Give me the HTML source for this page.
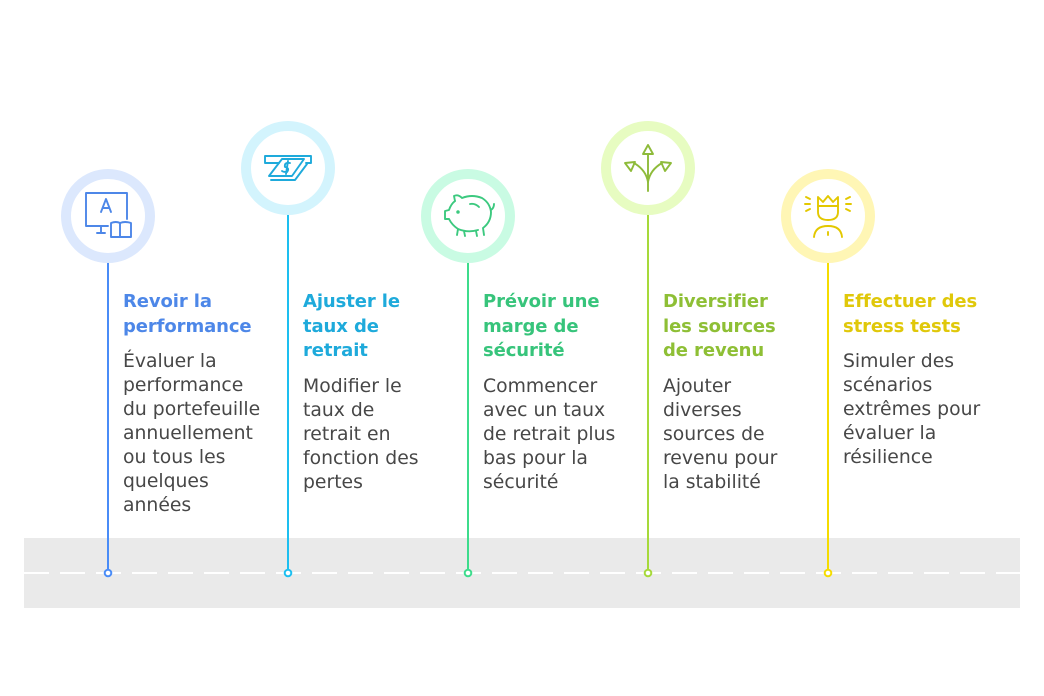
<!DOCTYPE html>
<html><head><meta charset="utf-8">
<style>
html,body{margin:0;padding:0;background:#fff;}
#wrap{position:relative;width:1044px;height:696px;overflow:hidden;background:#fff;}
svg{position:absolute;left:0;top:0;}
.t{position:absolute;white-space:nowrap;font-family:"DejaVu Sans","Liberation Sans",sans-serif;}
.h{font-weight:bold;font-size:18px;line-height:24.5px;letter-spacing:-0.1px;}
.b{font-size:18.8px;line-height:24px;color:#474747;margin-top:11px;}
</style></head><body>
<div id="wrap">
<svg width="1044" height="696" viewBox="0 0 1044 696">
  <!-- road -->
  <rect x="24" y="538" width="996" height="70" fill="#eaeaea"/>
  <line x1="24" y1="573" x2="1020" y2="573" stroke="#fff" stroke-width="2" stroke-dasharray="25 11"/>

  <!-- node 1 -->
  <line x1="108" y1="262" x2="108" y2="570" stroke="#4a8cf7" stroke-width="2"/>
  <circle cx="108" cy="573" r="3.3" fill="#fff" stroke="#4a8cf7" stroke-width="2"/>
  <circle cx="108" cy="216" r="42" fill="#fff" stroke="#dce8fd" stroke-width="10"/>
  <g fill="none" stroke="#4d87e8" stroke-width="1.9" stroke-linecap="round" stroke-linejoin="round">
    <path d="M108 226 H86 V193 H127 V219"/>
    <path d="M101 226 V233 M97 233 H105"/>
    <path d="M101 212 L106 199 L111 212 M103 208 H109"/>
    <path d="M111 223 V237 H120 V223 Q116 221 111 223 Z M120 223 Q125 221 131 223 V237 H120"/>
  </g>

  <!-- node 2 -->
  <line x1="288" y1="214" x2="288" y2="570" stroke="#1dbff0" stroke-width="2"/>
  <circle cx="288" cy="573" r="3.3" fill="#fff" stroke="#1dbff0" stroke-width="2"/>
  <circle cx="288" cy="168" r="42" fill="#fff" stroke="#d3f4fd" stroke-width="10"/>
  <g fill="none" stroke="#1eaadb" stroke-width="1.9" stroke-linecap="round" stroke-linejoin="round">
    <path d="M279 163 H265 V156 H311 V163 H306"/>
    <path d="M282 159 H304 L292 176 H269 Z"/>
    <path d="M271 180 H295 L307 164"/>
    <path d="M290 163 Q284 162 285 167 Q290 168 287 172 Q283 172 282 171 M288 161 L286 174"/>
  </g>

  <!-- node 3 -->
  <line x1="468" y1="262" x2="468" y2="570" stroke="#3ddc8c" stroke-width="2"/>
  <circle cx="468" cy="573" r="3.3" fill="#fff" stroke="#3ddc8c" stroke-width="2"/>
  <circle cx="468" cy="216" r="42" fill="#fff" stroke="#c9fbe3" stroke-width="10"/>
  <g fill="none" stroke="#3cc97f" stroke-width="1.9" stroke-linecap="round" stroke-linejoin="round">
    <path d="M455 201 L454 196 Q458 194 462 198 Q472 194 482 198 Q490 203 491 212 Q491 222 483 228 L484 235 M478 230 Q468 233 458 229 L457 235 M464 231 L465 236 M476 231 L477 236"/>
    <path d="M458 229 Q452 225 449 219 H445 V211 L449 210 Q451 204 455 201"/>
    <path d="M491 210 Q494 208 494 204"/>
    <path d="M470 204 Q475 203 479 207"/>
    <circle cx="458" cy="212" r="0.8" fill="#3cc97f"/>
  </g>

  <!-- node 4 -->
  <line x1="648" y1="214" x2="648" y2="570" stroke="#a6d93a" stroke-width="2"/>
  <circle cx="648" cy="573" r="3.3" fill="#fff" stroke="#a6d93a" stroke-width="2"/>
  <circle cx="648" cy="168" r="42" fill="#fff" stroke="#e7fcc1" stroke-width="10"/>
  <g fill="none" stroke="#8ebb3a" stroke-width="1.9" stroke-linecap="round" stroke-linejoin="round">
    <path d="M648 191 V154"/>
    <path d="M648 145 L643 154 H653 Z"/>
    <path d="M648 182 Q646 170 634 163"/>
    <path d="M648 182 Q650 170 662 163"/>
    <path d="M625 163 L635 162 L631 171 Z"/>
    <path d="M671 163 L661 162 L665 171 Z"/>
  </g>

  <!-- node 5 -->
  <line x1="828" y1="262" x2="828" y2="570" stroke="#f5dc00" stroke-width="2"/>
  <circle cx="828" cy="573" r="3.3" fill="#fff" stroke="#f5dc00" stroke-width="2"/>
  <circle cx="828" cy="216" r="42" fill="#fff" stroke="#fff6b5" stroke-width="10"/>
  <g fill="none" stroke="#e3c800" stroke-width="1.9" stroke-linecap="round" stroke-linejoin="round">
    <path d="M818 197 L823 202 L828 196 L833 202 L838 197 V212 Q838 220 828 220 Q818 220 818 212 Z"/>
    <path d="M818 206 H838"/>
    <path d="M814 237 Q815 226 828 226 Q841 226 842 237"/>
    <path d="M828 232 V235"/>
    <path d="M806 197 L810 199 M805 204 H810 M806 211 L810 209"/>
    <path d="M850 197 L846 199 M851 204 H846 M850 211 L846 209"/>
  </g>
</svg>

<div class="t" style="left:123px;top:290px;">
  <div class="h" style="color:#4d87e8;">Revoir la<br>performance</div>
  <div class="b">Évaluer la<br>performance<br>du portefeuille<br>annuellement<br>ou tous les<br>quelques<br>années</div>
</div>
<div class="t" style="left:303px;top:290px;">
  <div class="h" style="color:#1eaadb;">Ajuster le<br>taux de<br>retrait</div>
  <div class="b">Modifier le<br>taux de<br>retrait en<br>fonction des<br>pertes</div>
</div>
<div class="t" style="left:483px;top:290px;">
  <div class="h" style="color:#37c47b;">Prévoir une<br>marge de<br>sécurité</div>
  <div class="b">Commencer<br>avec un taux<br>de retrait plus<br>bas pour la<br>sécurité</div>
</div>
<div class="t" style="left:663px;top:290px;">
  <div class="h" style="color:#8ebf35;">Diversifier<br>les sources<br>de revenu</div>
  <div class="b">Ajouter<br>diverses<br>sources de<br>revenu pour<br>la stabilité</div>
</div>
<div class="t" style="left:843px;top:290px;">
  <div class="h" style="color:#e0c80a;">Effectuer des<br>stress tests</div>
  <div class="b">Simuler des<br>scénarios<br>extrêmes pour<br>évaluer la<br>résilience</div>
</div>
</div>
</body></html>
